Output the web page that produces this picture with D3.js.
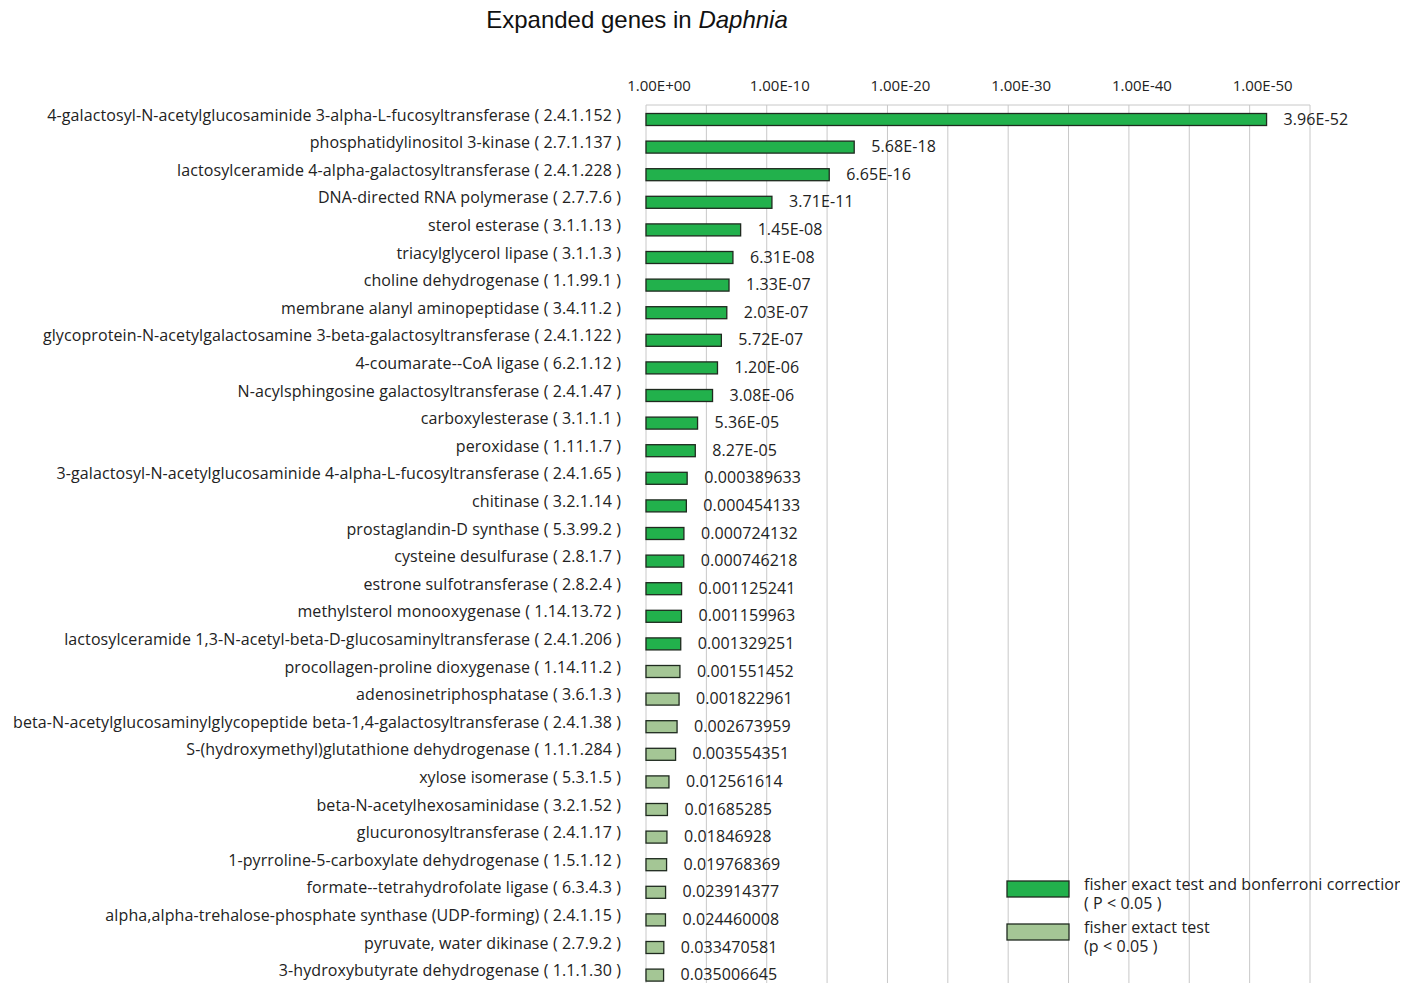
<!DOCTYPE html>
<html>
<head>
<meta charset="utf-8">
<script src="https://cdn.jsdelivr.net/npm/d3@7"></script>
<style>
  body { margin: 0; background: #fff; }
  .lbl { font-family: "Open Sans", "Noto Sans", sans-serif; font-size: 16px; letter-spacing: 0.1px; fill: #222; }
  .tick { font-family: "Open Sans", "Noto Sans", sans-serif; font-size: 15px; fill: #222; }
  .title { font-family: "Liberation Sans", Arial, sans-serif; font-size: 24px; fill: #111; }
  .grid line { stroke: #c8c8c8; stroke-width: 1; }
</style>
</head>
<body>
<div id="chart"></div>
<script>
// Expanded genes in Daphnia - enzyme p-values, shown on a -log10 axis

var genes = [
  "4-galactosyl-N-acetylglucosaminide 3-alpha-L-fucosyltransferase ( 2.4.1.152 )",
  "phosphatidylinositol 3-kinase ( 2.7.1.137 )",
  "lactosylceramide 4-alpha-galactosyltransferase ( 2.4.1.228 )",
  "DNA-directed RNA polymerase ( 2.7.7.6 )",
  "sterol esterase ( 3.1.1.13 )",
  "triacylglycerol lipase ( 3.1.1.3 )",
  "choline dehydrogenase ( 1.1.99.1 )",
  "membrane alanyl aminopeptidase ( 3.4.11.2 )",
  "glycoprotein-N-acetylgalactosamine 3-beta-galactosyltransferase ( 2.4.1.122 )",
  "4-coumarate--CoA ligase ( 6.2.1.12 )",
  "N-acylsphingosine galactosyltransferase ( 2.4.1.47 )",
  "carboxylesterase ( 3.1.1.1 )",
  "peroxidase ( 1.11.1.7 )",
  "3-galactosyl-N-acetylglucosaminide 4-alpha-L-fucosyltransferase ( 2.4.1.65 )",
  "chitinase ( 3.2.1.14 )",
  "prostaglandin-D synthase ( 5.3.99.2 )",
  "cysteine desulfurase ( 2.8.1.7 )",
  "estrone sulfotransferase ( 2.8.2.4 )",
  "methylsterol monooxygenase ( 1.14.13.72 )",
  "lactosylceramide 1,3-N-acetyl-beta-D-glucosaminyltransferase ( 2.4.1.206 )",
  "procollagen-proline dioxygenase ( 1.14.11.2 )",
  "adenosinetriphosphatase ( 3.6.1.3 )",
  "beta-N-acetylglucosaminylglycopeptide beta-1,4-galactosyltransferase ( 2.4.1.38 )",
  "S-(hydroxymethyl)glutathione dehydrogenase ( 1.1.1.284 )",
  "xylose isomerase ( 5.3.1.5 )",
  "beta-N-acetylhexosaminidase ( 3.2.1.52 )",
  "glucuronosyltransferase ( 2.4.1.17 )",
  "1-pyrroline-5-carboxylate dehydrogenase ( 1.5.1.12 )",
  "formate--tetrahydrofolate ligase ( 6.3.4.3 )",
  "alpha,alpha-trehalose-phosphate synthase (UDP-forming) ( 2.4.1.15 )",
  "pyruvate, water dikinase ( 2.7.9.2 )",
  "3-hydroxybutyrate dehydrogenase ( 1.1.1.30 )"
];

// p-values as printed next to the bars
var pLabels = [
  "3.96E-52", "5.68E-18", "6.65E-16", "3.71E-11", "1.45E-08", "6.31E-08",
  "1.33E-07", "2.03E-07", "5.72E-07", "1.20E-06", "3.08E-06", "5.36E-05",
  "8.27E-05", "0.000389633", "0.000454133", "0.000724132", "0.000746218",
  "0.001125241", "0.001159963", "0.001329251", "0.001551452", "0.001822961",
  "0.002673959", "0.003554351", "0.012561614", "0.01685285", "0.01846928",
  "0.019768369", "0.023914377", "0.024460008", "0.033470581", "0.035006645"
];

// true = significant after bonferroni correction
var bonferroni = [
  true, true, true, true, true, true, true, true, true, true,
  true, true, true, true, true, true, true, true, true, true,
  false, false, false, false, false, false, false, false, false, false, false, false
];

var tickValues = [0, 10, 20, 30, 40, 50];
var tickLabels = ["1.00E+00", "1.00E-10", "1.00E-20", "1.00E-30", "1.00E-40", "1.00E-50"];
var gridValues = [0, 5, 10, 15, 20, 25, 30, 35, 40, 45, 50, 55];

var legendItems = [
  {lines: ["fisher exact test and bonferroni correction", "( P < 0.05 )"], sig: true},
  {lines: ["fisher extact test", "(p < 0.05 )"], sig: false}
];

var data = genes.map(function (g, i) {
  return {name: g, label: pLabels[i], p: +pLabels[i], sig: bonferroni[i]};
});

var W = 1418, H = 983;
var colDark = "#22b14c", colLight = "#a4c695", colStroke = "#1f2a1f";

var x = d3.scaleLinear().domain([0, 55]).range([646, 1310]);
var y = d3.scalePoint().domain(genes).range([105.7, 988.9]).padding(0.5);
var barH = 12;

var svg = d3.select("#chart").append("svg")
  .attr("width", W).attr("height", H)
  .style("display", "block");

svg.append("clipPath").attr("id", "clip")
  .append("rect").attr("width", 1400).attr("height", H);

var root = svg.append("g").attr("clip-path", "url(#clip)");

// title
var title = root.append("text").attr("class", "title")
  .attr("x", 637).attr("y", 28).attr("text-anchor", "middle");
title.append("tspan").text("Expanded genes in ");
title.append("tspan").style("font-style", "italic").text("Daphnia");

// grid
root.append("g").attr("class", "grid")
  .selectAll("line").data(gridValues).enter().append("line")
  .attr("x1", function (d) { return x(d); })
  .attr("x2", function (d) { return x(d); })
  .attr("y1", 105).attr("y2", H);

root.append("line")
  .attr("x1", x(0)).attr("x2", x(55)).attr("y1", 105).attr("y2", 105)
  .attr("stroke", "#c8c8c8");

// top axis labels
root.append("g").selectAll("text").data(tickValues).enter().append("text")
  .attr("class", "tick")
  .attr("x", function (d) { return x(d) + 13; })
  .attr("y", 91)
  .attr("text-anchor", "middle")
  .text(function (d, i) { return tickLabels[i]; });

// bars
root.append("g").selectAll("rect").data(data).enter().append("rect")
  .attr("x", x(0))
  .attr("y", function (d) { return y(d.name) - barH / 2; })
  .attr("width", function (d) { return x(-Math.log10(d.p)) - x(0); })
  .attr("height", barH)
  .attr("fill", function (d) { return d.sig ? colDark : colLight; })
  .attr("stroke", colStroke)
  .attr("stroke-width", 1.3);

// category labels
root.append("g").selectAll("text").data(data).enter().append("text")
  .attr("class", "lbl")
  .attr("x", 621)
  .attr("y", function (d) { return y(d.name) + 1; })
  .attr("text-anchor", "end")
  .text(function (d) { return d.name; });

// value labels
root.append("g").selectAll("text").data(data).enter().append("text")
  .attr("class", "lbl")
  .attr("x", function (d) { return x(-Math.log10(d.p)) + 17; })
  .attr("y", function (d) { return y(d.name) + 5; })
  .text(function (d) { return d.label; });

// legend
var leg = root.append("g").selectAll("g").data(legendItems).enter().append("g")
  .attr("transform", function (d, i) { return "translate(1007," + (881 + i * 43) + ")"; });
leg.append("rect")
  .attr("width", 62).attr("height", 16)
  .attr("fill", function (d) { return d.sig ? colDark : colLight; })
  .attr("stroke", colStroke).attr("stroke-width", 1.3);
leg.append("text").attr("class", "lbl")
  .selectAll("tspan").data(function (d) { return d.lines; }).enter().append("tspan")
  .attr("x", 77)
  .attr("y", function (d, i) { return 9 + i * 19; })
  .text(function (d) { return d; });
</script>
</body>
</html>
